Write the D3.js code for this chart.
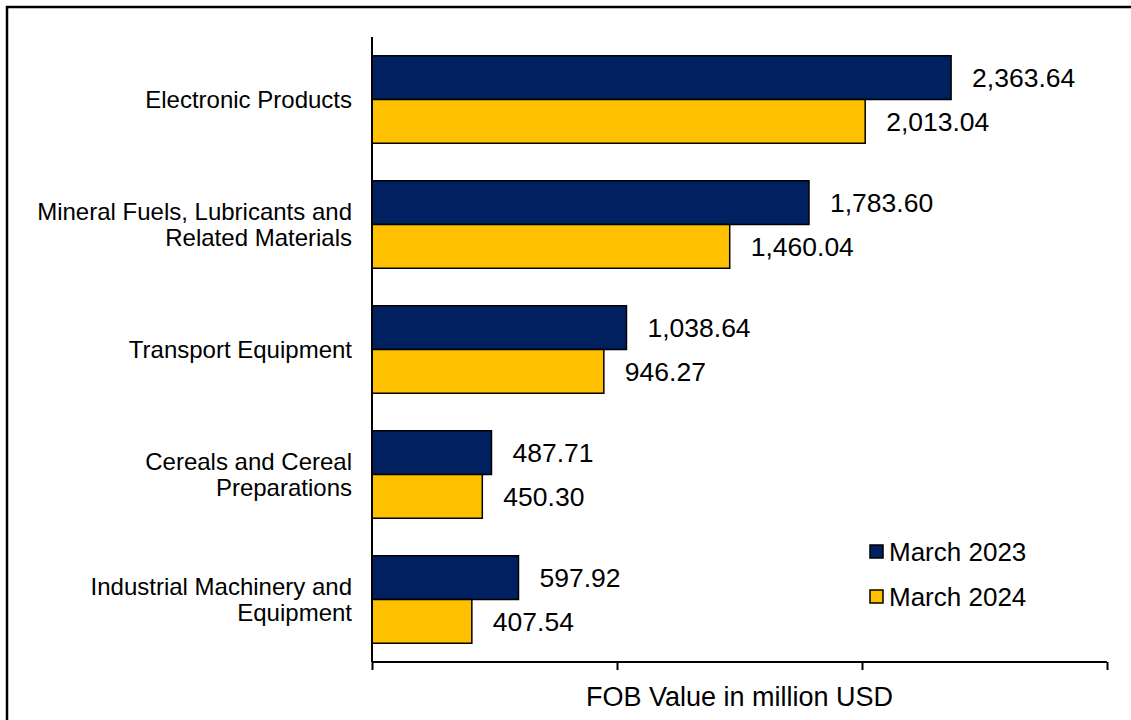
<!DOCTYPE html>
<html>
<head>
<meta charset="utf-8">
<script src="https://cdn.jsdelivr.net/npm/d3@7"></script>
<style>
  body { margin: 0; background: #fff; }
  svg { display: block; font-family: Arial, "Liberation Sans", sans-serif; }
</style>
</head>
<body>
<div id="chart"></div>
<script>
const categories = [
    ["Electronic Products"],
    ["Mineral Fuels, Lubricants and", "Related Materials"],
    ["Transport Equipment"],
    ["Cereals and Cereal", "Preparations"],
    ["Industrial Machinery and", "Equipment"]
];
const seriesNames = ["March 2023", "March 2024"];
const values2023 = [2363.64, 1783.60, 1038.64, 487.71, 597.92];
const values2024 = [2013.04, 1460.04, 946.27, 450.30, 407.54];
const xTicks = [0, 1000, 2000, 3000];
const colors = ["#002060", "#FFC000"];

const width = 1131, height = 720;
const margin = {top: 37, right: 24, bottom: 58, left: 372};
const innerWidth = width - margin.left - margin.right;
const innerHeight = height - margin.top - margin.bottom;

const svg = d3.select("#chart").append("svg")
    .attr("width", width)
    .attr("height", height);

// outer frame (right and bottom edges fall outside the picture)
svg.append("rect")
    .attr("x", 7).attr("y", 7)
    .attr("width", 1150).attr("height", 740)
    .attr("fill", "none")
    .attr("stroke", "#000")
    .attr("stroke-width", 2.5);

const chart = svg.append("g")
    .attr("transform", `translate(${margin.left}, ${margin.top})`);

const x = d3.scaleLinear()
    .domain([0, 3000])
    .range([0, innerWidth]);

const y = d3.scaleBand()
    .domain(d3.range(categories.length))
    .range([0, innerHeight])
    .paddingInner(0.3)
    .paddingOuter(0.15);

const ySub = d3.scaleBand()
    .domain(d3.range(seriesNames.length))
    .range([0, y.bandwidth()]);

const series = [values2023, values2024];

series.forEach((vals, s) => {
    const g = chart.append("g");
    g.selectAll("rect")
        .data(vals)
        .join("rect")
        .attr("x", 0)
        .attr("y", (d, i) => y(i) + ySub(s))
        .attr("width", d => x(d))
        .attr("height", ySub.bandwidth())
        .attr("fill", colors[s])
        .attr("stroke", "#000")
        .attr("stroke-width", 1.5);

    g.selectAll("text")
        .data(vals)
        .join("text")
        .attr("x", d => x(d) + 21)
        .attr("y", (d, i) => y(i) + ySub(s) + ySub.bandwidth() / 2)
        .attr("dy", "0.35em")
        .attr("font-size", 26.5)
        .attr("fill", "#000")
        .text(d => d3.format(",.2f")(d));
});

// bottom axis with tick marks, no labels
const xAxis = d3.axisBottom(x)
    .tickValues(xTicks)
    .tickSize(8)
    .tickFormat("");

const xg = chart.append("g")
    .attr("transform", `translate(0, ${innerHeight})`)
    .call(xAxis);
xg.select(".domain").attr("stroke-width", 2).attr("d", `M0,0H${innerWidth}`);
xg.selectAll(".tick line").attr("stroke-width", 2);

// left axis line
chart.append("line")
    .attr("x1", 0).attr("x2", 0)
    .attr("y1", 0).attr("y2", innerHeight)
    .attr("stroke", "#000")
    .attr("stroke-width", 2);

// category labels
const labels = chart.append("g")
    .selectAll("text")
    .data(categories)
    .join("text")
    .attr("text-anchor", "end")
    .attr("font-size", 24)
    .attr("fill", "#000")
    .attr("transform", (d, i) => `translate(-20, ${y(i) + y.bandwidth() / 2})`);

labels.selectAll("tspan")
    .data(d => d.map((t, k) => ({t, k, n: d.length})))
    .join("tspan")
    .attr("x", 0)
    .attr("y", d => (d.k - (d.n - 1) / 2) * 26.5)
    .attr("dy", "0.35em")
    .text(d => d.t);

// axis title
chart.append("text")
    .attr("x", innerWidth / 2)
    .attr("y", innerHeight + 44)
    .attr("text-anchor", "middle")
    .attr("font-size", 27)
    .text("FOB Value in million USD");

// legend
const legend = svg.append("g")
    .attr("transform", "translate(870, 545)");
seriesNames.forEach((name, i) => {
    legend.append("rect")
        .attr("x", 0)
        .attr("y", i * 45)
        .attr("width", 13)
        .attr("height", 13)
        .attr("fill", colors[i])
        .attr("stroke", "#000")
        .attr("stroke-width", 1.5);
    legend.append("text")
        .attr("x", 19)
        .attr("y", i * 45 + 7)
        .attr("dy", "0.35em")
        .attr("font-size", 26)
        .text(name);
});
</script>
</body>
</html>
